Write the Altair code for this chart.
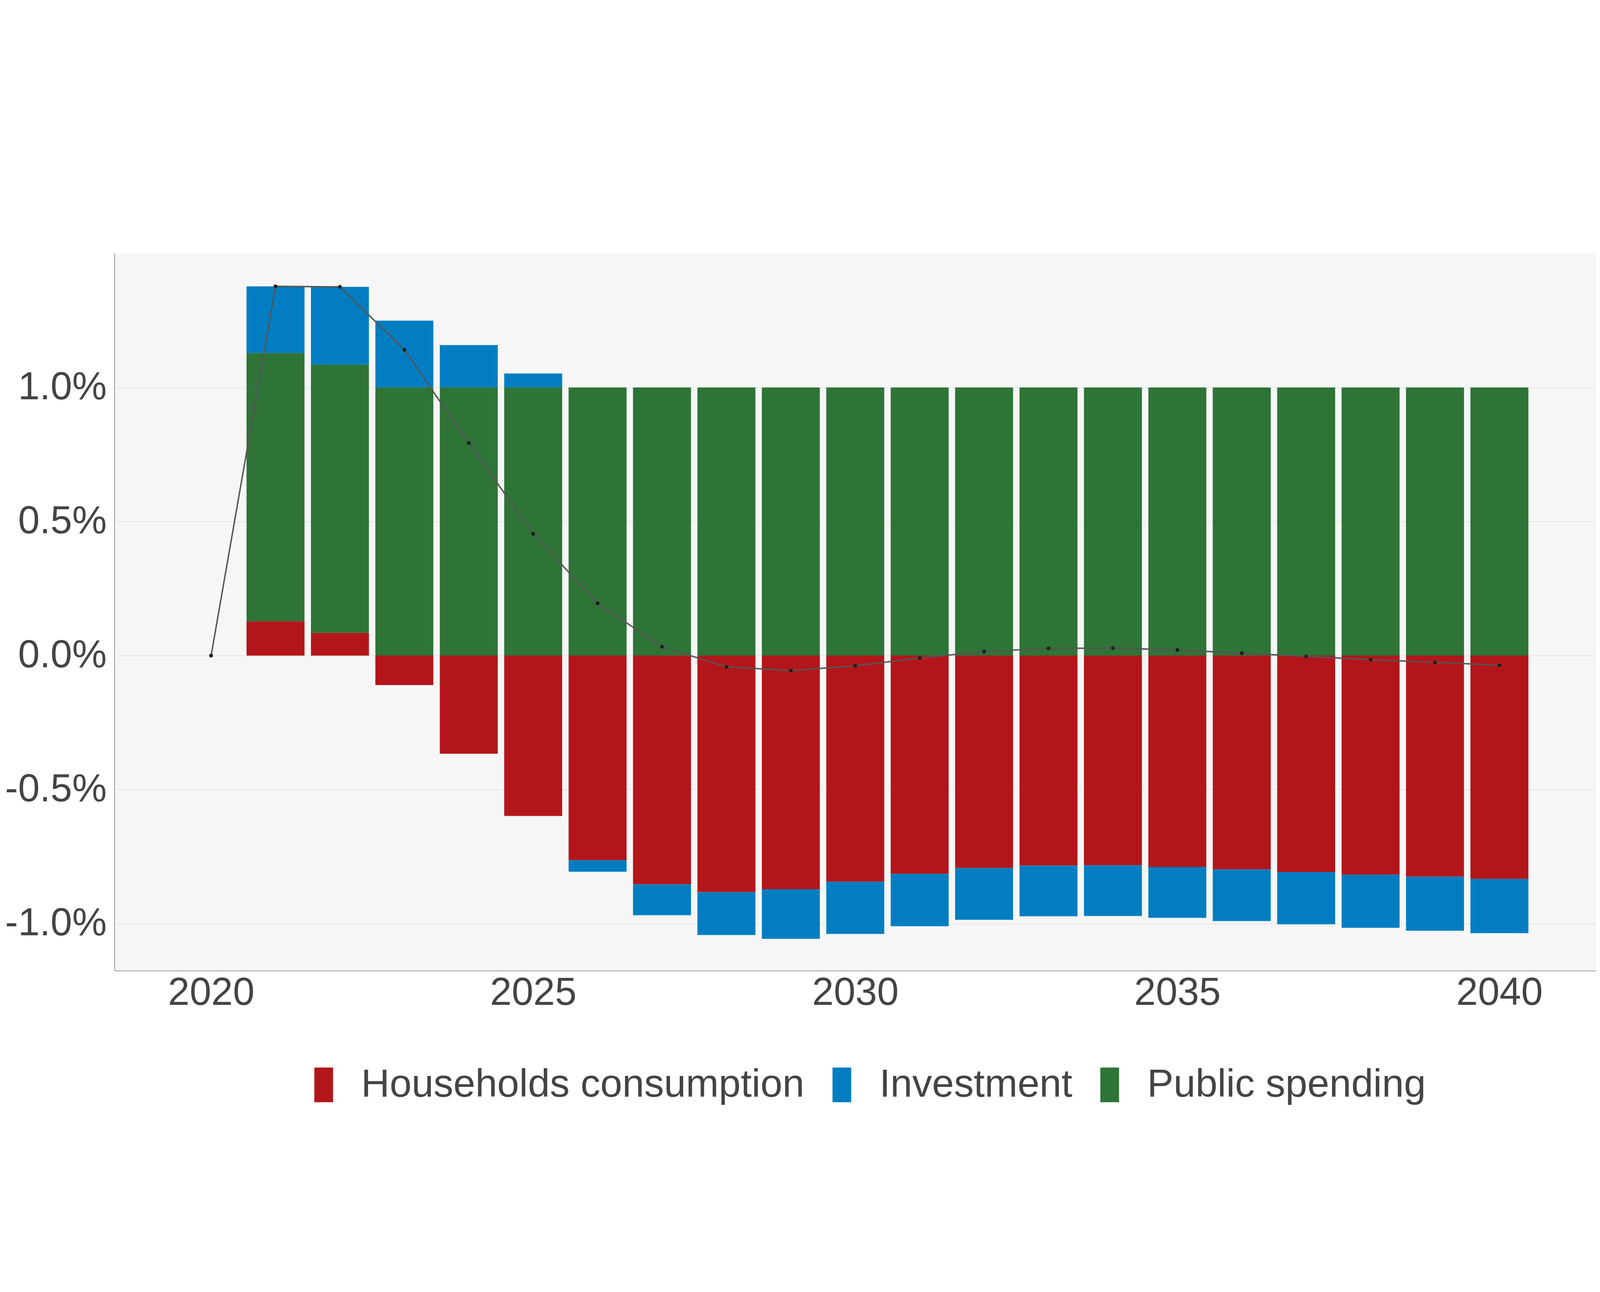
import altair as alt
import pandas as pd

# ---- data (values in %) ----
years = list(range(2021, 2041))
households = [0.128, 0.085, -0.110, -0.366, -0.598, -0.763, -0.853, -0.882, -0.871, -0.843,
              -0.814, -0.792, -0.783, -0.782, -0.788, -0.797, -0.807, -0.817, -0.824, -0.833]
investment = [0.249, 0.290, 0.249, 0.158, 0.052, -0.043, -0.115, -0.160, -0.185, -0.195,
              -0.195, -0.193, -0.189, -0.189, -0.190, -0.193, -0.195, -0.198, -0.202, -0.202]
public = [1.0, 1.0, 1.0, 1.0, 1.0, 1.0, 1.0, 1.0, 1.0, 1.0,
          1.0, 1.0, 1.0, 1.0, 1.0, 1.0, 1.0, 1.0, 1.0, 1.0]

line_years = list(range(2020, 2041))
total = [0.0, 1.377, 1.375, 1.140, 0.793, 0.454, 0.195, 0.033, -0.042, -0.056, -0.038,
         -0.009, 0.015, 0.027, 0.028, 0.021, 0.009, -0.003, -0.015, -0.025, -0.036]

components = ["Households consumption", "Investment", "Public spending"]
colors = ["#B3161A", "#027DC1", "#2E7437"]
stack_order = {"Households consumption": 0, "Public spending": 1, "Investment": 2}

rows = []
for i, y in enumerate(years):
    for name, series in (("Households consumption", households),
                         ("Investment", investment),
                         ("Public spending", public)):
        rows.append({"year": y, "component": name, "value": series[i], "ord": stack_order[name]})
bar_df = pd.DataFrame(rows)
line_df = pd.DataFrame({"year": line_years, "total": total})

FONT = "Liberation Sans"

xscale = alt.Scale(domain=[2018.5, 2041.5], nice=False, zero=False)
yscale = alt.Scale(domain=[-1.175, 1.5], nice=False, zero=False)

xaxis = alt.Axis(values=[2020, 2025, 2030, 2035, 2040], format="d", title=None,
                 grid=False, ticks=False, labelPadding=12, labelFontSize=138,
                 labelFont=FONT, labelColor="#444444", domainColor="#7a7a7a",
                 domainWidth=2, labelFlush=False, labelLimit=2000, labelOverlap=False)
yaxis = alt.Axis(values=[-1.0, -0.5, 0.0, 0.5, 1.0], title=None, grid=True,
                 gridColor="#dedede", gridWidth=2, ticks=False, labelPadding=28,
                 labelFontSize=138, labelFont=FONT, labelColor="#444444",
                 domainColor="#7a7a7a", domainWidth=2, labelLimit=2000,
                 labelOverlap=False, labelFlush=False,
                 labelExpr="(datum.value < 0 ? '-' : '') + format(abs(datum.value), '.1f') + '%'")

bars = alt.Chart(bar_df).transform_stack(
    stack="value", groupby=["year"], as_=["v0", "v1"],
    sort=[alt.SortField("ord", order="ascending")], offset="zero"
).transform_calculate(
    x0="datum.year - 0.45", x1="datum.year + 0.45"
).mark_bar().encode(
    x=alt.X("x0:Q", scale=xscale, axis=xaxis),
    x2="x1:Q",
    y=alt.Y("v0:Q", scale=yscale, axis=yaxis),
    y2="v1:Q",
    color=alt.Color("component:N",
                    scale=alt.Scale(domain=components, range=colors),
                    legend=alt.Legend(title=" ", titleOrient="left", titleFontSize=1,
                                      titlePadding=672,
                                      orient="bottom", offset=186,
                                      direction="horizontal",
                                      symbolType="M-0.54,-1H0.54V1H-0.54Z",
                                      symbolSize=15129, symbolStrokeWidth=0,
                                      symbolOpacity=1,
                                      labelFontSize=140, labelFont=FONT,
                                      labelColor="#444444", labelOffset=63,
                                      columnPadding=62, padding=0, labelLimit=5000)),
)

line = alt.Chart(line_df).mark_line(color="#555555", strokeWidth=5).encode(
    x=alt.X("year:Q", scale=xscale),
    y=alt.Y("total:Q", scale=yscale),
)
points = alt.Chart(line_df).mark_circle(color="#1e1e1e", size=180, opacity=1).encode(
    x=alt.X("year:Q", scale=xscale),
    y=alt.Y("total:Q", scale=yscale),
)

chart = alt.layer(bars, line, points).properties(
    width=5653, height=3291,
    autosize=alt.AutoSizeParams(type="fit", contains="padding"),
    padding={"left": 6, "top": 253, "right": 3, "bottom": 19},
    background="white",
).configure_view(
    fill="#f6f6f6", stroke=None
)

chart.save("out.html", embed_options={"renderer": "svg", "actions": False})
